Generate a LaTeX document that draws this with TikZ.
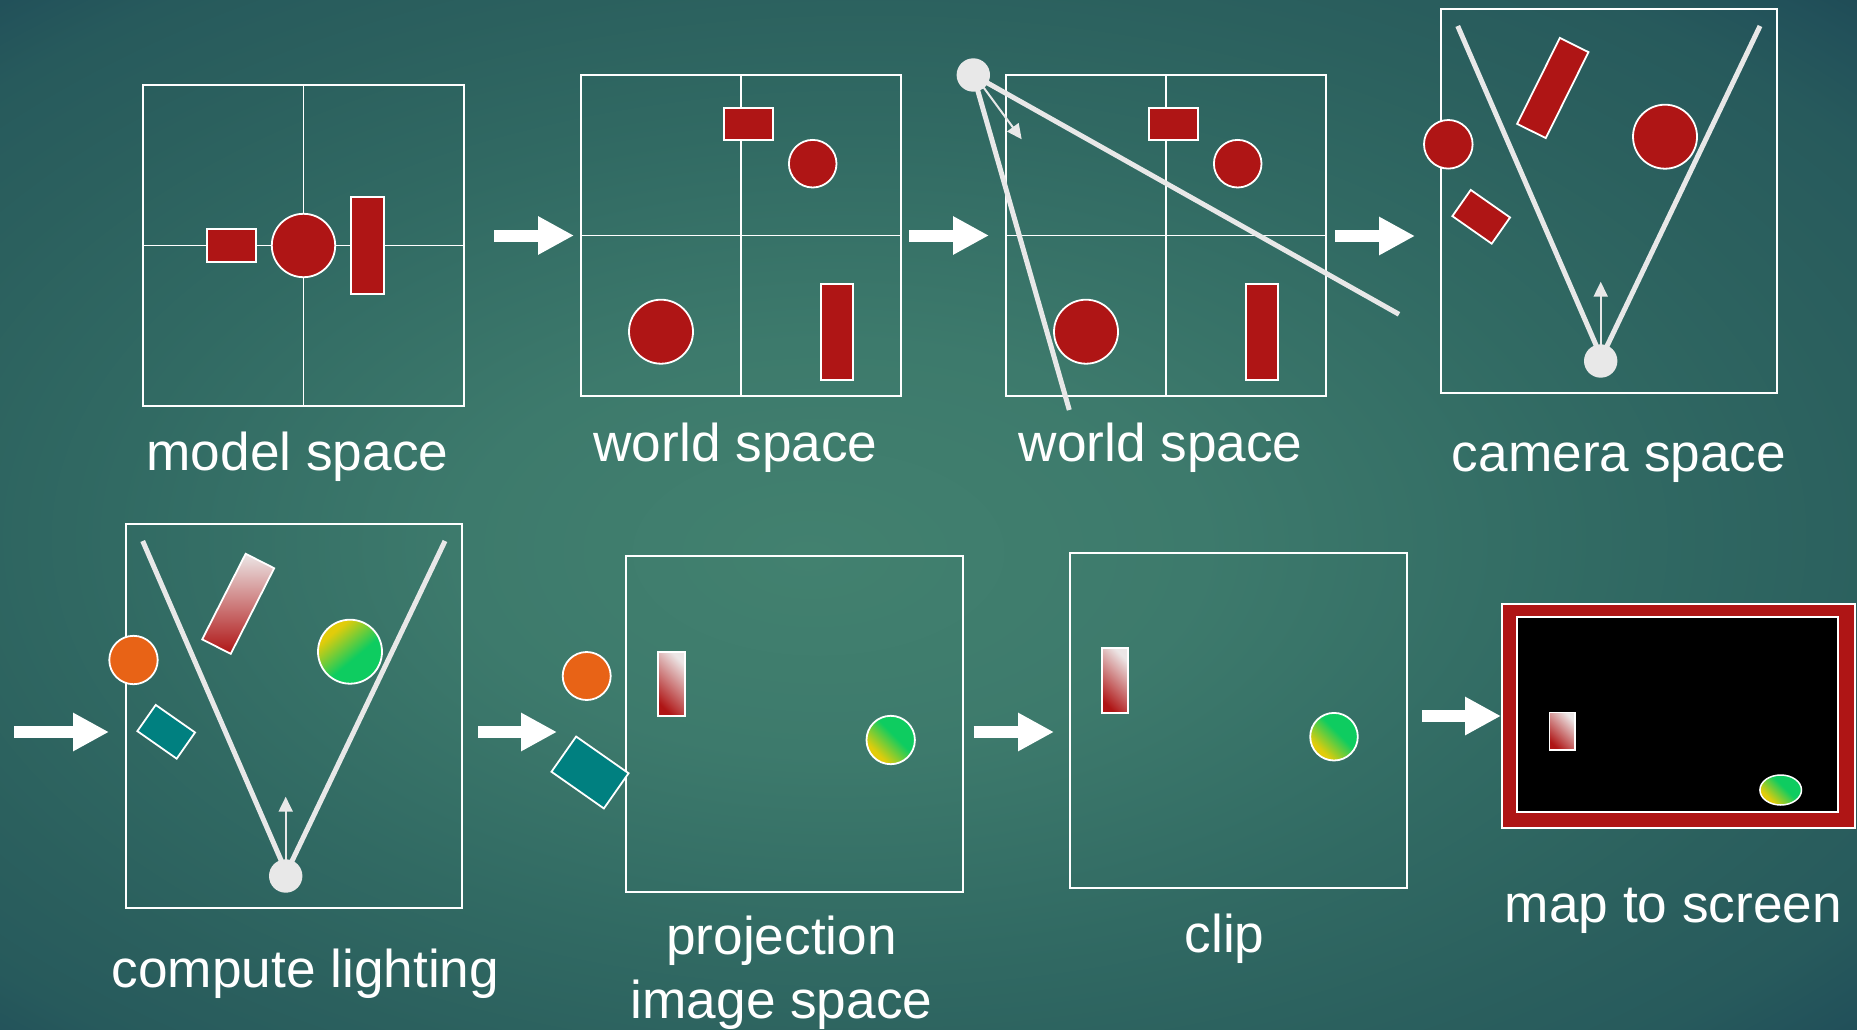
\documentclass[tikz,border=0pt]{standalone}
\usepackage{fontspec}
\setmainfont{Liberation Sans}
\usetikzlibrary{arrows.meta}
\definecolor{objred}{HTML}{AF1515}
\definecolor{objorange}{HTML}{E86316}
\definecolor{objteal}{HTML}{008080}
\definecolor{ballgreen}{HTML}{0ECC60}
\definecolor{ballyellow}{HTML}{E2CC0A}
\definecolor{beam}{HTML}{E8E8E8}
\definecolor{lightend}{HTML}{ECE6E6}
\definecolor{bgA}{HTML}{42816F}
\definecolor{bgB}{HTML}{3D7A6C}
\definecolor{bgC}{HTML}{316A63}
\definecolor{bgD}{HTML}{2B605E}
\definecolor{bgE}{HTML}{275A5C}
\definecolor{bgF}{HTML}{22515A}
\definecolor{bgG}{HTML}{1E4A55}
\definecolor{bgH}{HTML}{173E4D}
\pgfdeclareradialshading{bgshade}{\pgfpoint{-3.3bp}{-2bp}}{color(0bp)=(bgA); color(10bp)=(bgB); color(20bp)=(bgC); color(27bp)=(bgD); color(32bp)=(bgE); color(35bp)=(bgF); color(37bp)=(bgG); color(40bp)=(bgH); color(50bp)=(bgH)}
\pgfdeclareverticalshading{ballshade}{100bp}{color(0bp)=(ballgreen); color(44bp)=(ballgreen); color(57bp)=(ballgreen!50!ballyellow); color(70bp)=(ballyellow); color(100bp)=(ballyellow)}
\begin{document}
\begin{tikzpicture}[x=1pt,y=-1pt,
  frame/.style={draw=white, line width=2pt},
  gridline/.style={draw=white, line width=1.6pt},
  redobj/.style={fill=objred, draw=white, line width=1.8pt},
  beamline/.style={draw=beam, line width=5pt},
  bigarrow/.style={draw=white, line width=12pt, -{Triangle[length=36pt,width=36pt]}},
  thinarrow/.style={draw=beam, line width=2pt, -{Triangle[length=15pt,width=14pt]}},
  lightsrc/.style={circle, fill=beam, draw=none, minimum size=33.4pt, inner sep=0pt},
  ball/.style={draw=white, line width=1.8pt, shading=ballshade},
  fadebar/.style={draw=white, line width=1.8pt, left color=objred, right color=lightend, shading angle=135},
  lbl/.style={text=white, font=\fontsize{53.2}{64}\selectfont, anchor=base, inner sep=0pt},
  tilted/.style={rectangle, inner sep=0pt, line width=1.8pt, draw=white}]

% background
\shade[shading=bgshade] (0,0) rectangle (1857,1030);
\useasboundingbox (0,0) rectangle (1857,1030);

% ---------- model space ----------
\draw[frame] (143,85) rectangle (464,406);
\draw[gridline] (303.5,85) -- (303.5,406);
\draw[gridline] (143,245.5) -- (464,245.5);
\draw[redobj] (207.3,229.3) rectangle (255.7,261.7);
\draw[redobj] (303.5,245.5) circle[radius=31.7];
\draw[redobj] (351.3,197.3) rectangle (384,293.7);
\node[lbl] (lmodel) at (297.5,470) {model space};

% ---------- world space 1 ----------
\begin{scope}[shift={(581,75)}]
\draw[frame] (0,0) rectangle (320,321);
\draw[gridline] (160,0) -- (160,321);
\draw[gridline] (0,160.5) -- (320,160.5);
\draw[redobj] (143,32.7) rectangle (192,64.7);
\draw[redobj] (231.7,88.7) circle[radius=23.8];
\draw[redobj] (80,256.7) circle[radius=32];
\draw[redobj] (239.7,209) rectangle (272.3,305);
\end{scope}
\node[lbl] (lworld1) at (735.5,461.5) {world space};

% ---------- world space 2 ----------
\begin{scope}[shift={(1006,75)}]
\draw[frame] (0,0) rectangle (320,321);
\draw[gridline] (160,0) -- (160,321);
\draw[gridline] (0,160.5) -- (320,160.5);
\draw[redobj] (143,32.7) rectangle (192,64.7);
\draw[redobj] (231.7,88.7) circle[radius=23.8];
\draw[redobj] (80,256.7) circle[radius=32];
\draw[redobj] (239.7,209) rectangle (272.3,305);
\end{scope}
\coordinate (lightc) at (973.3,75);
\coordinate (beamA) at (1069.3,410);
\coordinate (beamB) at (1399,314.3);
\coordinate (ldirA) at (983,86.7);
\coordinate (ldirB) at (1021.7,139.3);
\draw[beamline] (lightc) -- (beamA);
\draw[beamline] (lightc) -- (beamB);
\draw[thinarrow] (ldirA) -- (ldirB);
\node[lightsrc] (light) at (lightc) {};
\node[lbl] (lworld2) at (1160.6,461.5) {world space};

% ---------- camera space ----------
\draw[frame] (1441,9.3) rectangle (1777,392.7);
\coordinate (camVL) at (1457.7,26);
\coordinate (camVR) at (1760,26);
\coordinate (camBL) at (1596.7,346.7);
\coordinate (camBR) at (1606.7,346.7);
\draw[beamline] (camVL) -- (camBL);
\draw[beamline] (camVR) -- (camBR);
\coordinate (camUp0) at (1600.7,345);
\coordinate (camUp1) at (1600.7,281.7);
\draw[thinarrow] (camUp0) -- (camUp1);
\node[lightsrc] (cam) at (1600.7,361) {};
\node[tilted, fill=objred, minimum width=32pt, minimum height=96pt, rotate=-26.4] (camrect1) at (1552.8,88) {};
\node[tilted, fill=objred, minimum width=48pt, minimum height=32pt, rotate=-35] (camrect2) at (1481.2,216.8) {};
\draw[redobj] (1448.3,144.3) circle[radius=24.3];
\draw[redobj] (1665,136.7) circle[radius=32];
\node[lbl] (lcamera) at (1619,471) {camera space};

% ---------- compute lighting ----------
\draw[frame] (126,524.3) rectangle (462,907.7);
\coordinate (litVL) at (142.7,541);
\coordinate (litVR) at (445,541);
\coordinate (litBL) at (281.7,861.7);
\coordinate (litBR) at (291.7,861.7);
\draw[beamline] (litVL) -- (litBL);
\draw[beamline] (litVR) -- (litBR);
\coordinate (litUp0) at (285.7,860);
\coordinate (litUp1) at (285.7,796.7);
\draw[thinarrow] (litUp0) -- (litUp1);
\node[lightsrc] (litcam) at (285.7,876) {};
\node[tilted, bottom color=objred, top color=lightend, minimum width=32pt, minimum height=96pt, rotate=-26.9] (litrect1) at (238.2,603.8) {};
\node[tilted, fill=objteal, minimum width=48pt, minimum height=32pt, rotate=-35] (litrect2) at (166.2,731.8) {};
\draw[draw=white, line width=1.8pt, fill=objorange] (133.5,660) circle[radius=24.2];
\draw[ball, shading angle=40] (350,651.7) circle[radius=32];
\node[lbl] (llight) at (305.5,987) {compute lighting};

% ---------- projection ----------
\draw[frame] (626.3,555.7) rectangle (963.3,891.7);
\draw[draw=white, line width=1.8pt, fill=objorange] (586.7,676) circle[radius=24];
\node[tilted, fill=objteal, minimum width=64pt, minimum height=43pt, rotate=-35] (projrect2) at (590,772.5) {};
\draw[fadebar] (658.3,651.7) rectangle (685,716);
\draw[ball, shading angle=135] (890.7,740) circle[radius=24.2];
\node[lbl] (lproj1) at (781.6,954) {projection};
\node[lbl] (lproj2) at (781.6,1018) {image space};

% ---------- clip ----------
\draw[frame] (1070,552.7) rectangle (1406.7,888.3);
\draw[fadebar] (1101.7,648.3) rectangle (1128.3,713.3);
\draw[ball, shading angle=135] (1334,736.7) circle[radius=23.8];
\node[lbl] (lclip) at (1224.6,952) {clip};

% ---------- map to screen ----------
\draw[draw=white, line width=2pt, fill=objred] (1501.7,604) rectangle (1855,827.7);
\draw[draw=white, line width=2pt, fill=black] (1517.3,616.7) rectangle (1838.3,811.7);
\draw[fadebar, line width=1.5pt] (1549.3,712.3) rectangle (1575,750);
\draw[ball, line width=1.5pt, shading angle=135] (1780.7,790) ellipse[x radius=20.8, y radius=15];
\node[lbl] (lmap) at (1673.4,922) {map to screen};

% ---------- arrows between stages ----------
\coordinate (a1s) at (494,235.5);   \coordinate (a1e) at (574,235.5);
\coordinate (a2s) at (909,235.5);   \coordinate (a2e) at (989,235.5);
\coordinate (a3s) at (1335,236);    \coordinate (a3e) at (1415,236);
\coordinate (a4s) at (14,732);      \coordinate (a4e) at (109,732);
\coordinate (a5s) at (478,732);     \coordinate (a5e) at (557,732);
\coordinate (a6s) at (973.5,732);   \coordinate (a6e) at (1054,732);
\coordinate (a7s) at (1422,716);    \coordinate (a7e) at (1501,716);
\draw[bigarrow] (a1s) -- (a1e);
\draw[bigarrow] (a2s) -- (a2e);
\draw[bigarrow] (a3s) -- (a3e);
\draw[bigarrow] (a4s) -- (a4e);
\draw[bigarrow] (a5s) -- (a5e);
\draw[bigarrow] (a6s) -- (a6e);
\draw[bigarrow] (a7s) -- (a7e);
\end{tikzpicture}
\end{document}
